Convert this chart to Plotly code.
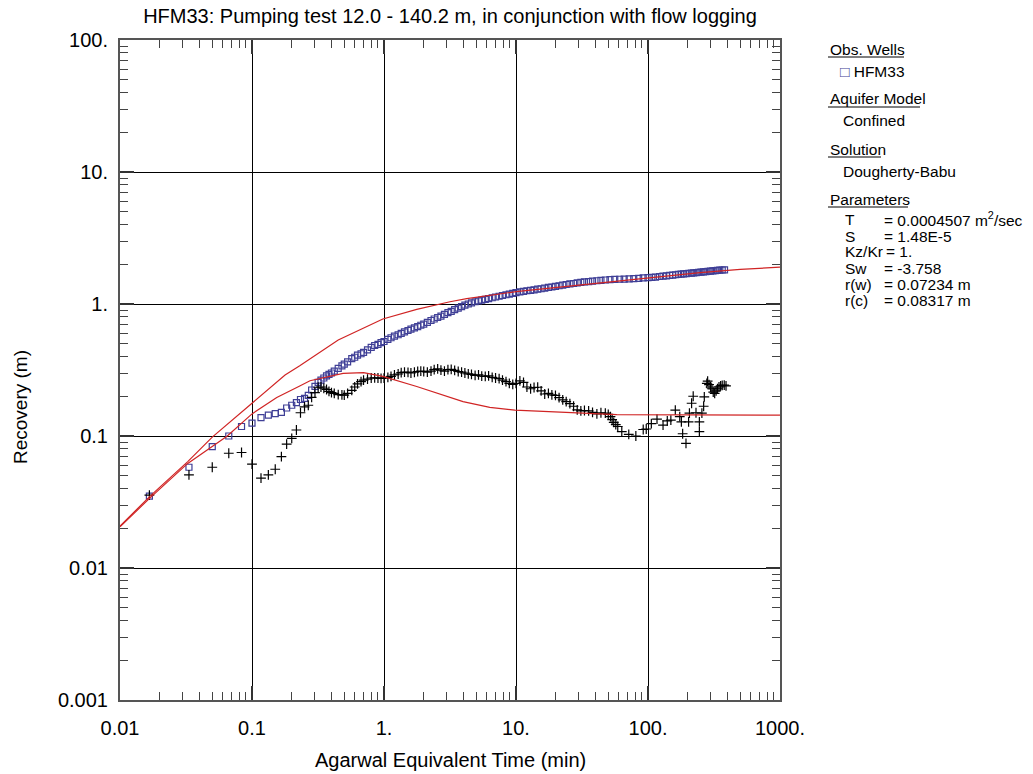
import plotly.graph_objects as go

# ---------------- data ----------------
obs_t = [0.0167, 0.0333, 0.05, 0.0667, 0.0833, 0.1, 0.117, 0.133, 0.15, 0.167, 0.183, 0.2,
         0.217, 0.233, 0.25, 0.267, 0.283, 0.3, 0.317, 0.333, 0.35, 0.367, 0.383, 0.4,
         0.42, 0.45, 0.48, 0.5, 0.53, 0.57, 0.6, 0.63, 0.67, 0.7, 0.75, 0.8, 0.85, 0.9, 0.95,
         1.0, 1.07, 1.13, 1.2, 1.28, 1.35, 1.43, 1.52, 1.6, 1.7, 1.8, 1.9, 2.0, 2.13, 2.27,
         2.4, 2.55, 2.7, 2.87, 3.05, 3.23, 3.43, 3.65, 3.87, 4.1, 4.35, 4.6, 4.9, 5.2, 5.5,
         5.85, 6.2, 6.6, 7.0, 7.45, 7.9, 8.4, 8.9, 9.45, 10.0, 10.7, 11.4, 12.1, 12.9, 13.7,
         14.6, 15.5, 16.5, 17.6, 18.7, 19.9, 21.2, 22.6, 24.0, 25.6, 27.3, 29.1, 31.0, 33.0,
         35.5, 38.0, 41.0, 44.0, 47.5, 51.5, 56, 61, 66, 72, 78, 85, 92, 100, 107, 114, 122,
         130, 138, 146, 154, 162, 170, 178, 186, 195, 204, 213, 222, 232, 242, 252, 263, 274,
         285, 297, 310, 323, 336, 350, 365, 380]
obs_recovery = [0.035, 0.058, 0.083, 0.100, 0.118, 0.125, 0.138, 0.144, 0.148, 0.151, 0.163, 0.171,
                0.179, 0.189, 0.193, 0.203, 0.223, 0.238, 0.255, 0.265, 0.275, 0.285, 0.293, 0.300,
                0.31, 0.325, 0.34, 0.35, 0.365, 0.385, 0.395, 0.41, 0.42, 0.43, 0.45, 0.47, 0.485,
                0.495, 0.51, 0.52, 0.54, 0.555, 0.57, 0.585, 0.6, 0.615, 0.63, 0.645, 0.66, 0.675,
                0.69, 0.705, 0.725, 0.75, 0.77, 0.79, 0.81, 0.835, 0.86, 0.88, 0.905, 0.93, 0.955,
                0.98, 1.0, 1.02, 1.04, 1.055, 1.07, 1.085, 1.1, 1.115, 1.13, 1.145, 1.16, 1.175,
                1.19, 1.205, 1.22, 1.235, 1.245, 1.26, 1.27, 1.28, 1.295, 1.305, 1.32, 1.335, 1.345,
                1.36, 1.375, 1.39, 1.405, 1.42, 1.43, 1.445, 1.46, 1.47, 1.48, 1.49, 1.50, 1.51,
                1.52, 1.53, 1.535, 1.54, 1.545, 1.55, 1.555, 1.565, 1.575, 1.585, 1.59, 1.60, 1.615,
                1.625, 1.635, 1.645, 1.655, 1.665, 1.675, 1.685, 1.69, 1.70, 1.71, 1.715, 1.72, 1.73,
                1.74, 1.745, 1.75, 1.76, 1.765, 1.775, 1.785, 1.79, 1.80, 1.805, 1.81, 1.815]

deriv_t = [0.0167, 0.0333, 0.05, 0.0667, 0.0833, 0.1, 0.117, 0.133, 0.15, 0.167, 0.183, 0.2,
           0.217, 0.233, 0.25, 0.267, 0.283, 0.3, 0.317, 0.333, 0.35, 0.367, 0.383, 0.4,
           0.42, 0.45, 0.48, 0.5, 0.53, 0.57, 0.6, 0.63, 0.67, 0.7, 0.75, 0.8, 0.85, 0.9, 0.95,
           1.0, 1.07, 1.13, 1.2, 1.28, 1.35, 1.43, 1.52, 1.6, 1.7, 1.8, 1.9, 2.0, 2.13, 2.27,
           2.4, 2.55, 2.7, 2.87, 3.05, 3.23, 3.43, 3.65, 3.87, 4.1, 4.35, 4.6, 4.9, 5.2, 5.5,
           5.85, 6.2, 6.6, 7.0, 7.45, 7.9, 8.4, 8.9, 9.45, 10.0, 10.7, 11.4, 12.1, 12.9, 13.7,
           14.6, 15.5, 16.5, 17.6, 18.7, 19.9, 21.2, 22.6, 24.0, 25.6, 27.3, 29.1, 31.0, 33.0,
           35.5, 38.0, 41.0, 44.0, 47.5, 50, 52, 53.5, 55, 57, 59, 63.3, 71.5, 80.9, 92, 97,
           106, 117, 130, 140, 149, 161, 174, 179, 183, 194, 203, 206, 214, 220, 231, 245, 245,
           256, 264, 267, 279, 283, 290, 298, 305, 312, 320, 328, 336, 345, 355, 365, 378, 390]
deriv_recovery = [0.0356, 0.0507, 0.058, 0.074, 0.075, 0.0613, 0.0479, 0.0507, 0.056, 0.0697, 0.0869,
                  0.096, 0.111, 0.150, 0.166, 0.171, 0.196, 0.213, 0.234, 0.235, 0.23, 0.225, 0.218,
                  0.213, 0.21, 0.206, 0.205, 0.204, 0.21, 0.222, 0.235, 0.248, 0.258, 0.265, 0.27,
                  0.275, 0.276, 0.275, 0.273, 0.274, 0.278, 0.283, 0.29, 0.295, 0.302, 0.305, 0.303,
                  0.30, 0.304, 0.308, 0.31, 0.308, 0.305, 0.31, 0.318, 0.322, 0.315, 0.31, 0.318,
                  0.32, 0.314, 0.308, 0.305, 0.30, 0.296, 0.293, 0.288, 0.29, 0.284, 0.283, 0.285,
                  0.278, 0.275, 0.272, 0.265, 0.258, 0.25, 0.246, 0.25, 0.262, 0.255, 0.235, 0.228,
                  0.233, 0.234, 0.22, 0.208, 0.21, 0.205, 0.203, 0.195, 0.188, 0.182, 0.176, 0.168,
                  0.158, 0.155, 0.156, 0.155, 0.151, 0.147, 0.15, 0.149, 0.146, 0.14, 0.133, 0.127,
                  0.122, 0.118, 0.108, 0.103, 0.1, 0.112, 0.113, 0.124, 0.134, 0.121, 0.13, 0.132,
                  0.157, 0.14, 0.128, 0.104, 0.088, 0.128, 0.149, 0.177, 0.2, 0.15, 0.128, 0.108,
                  0.149, 0.168, 0.198, 0.25, 0.26, 0.245, 0.235, 0.228, 0.215, 0.21, 0.22, 0.228,
                  0.235, 0.24, 0.242, 0.243, 0.24]

model_t = [0.01, 0.0169, 0.0326, 0.05, 0.1, 0.178, 0.23, 0.45, 0.98, 1.77, 3.16, 4.23, 10,
           43, 100, 248, 500, 1000]
model_recovery = [0.0208, 0.035, 0.064, 0.098, 0.177, 0.29, 0.34, 0.533, 0.77, 0.91, 1.04, 1.10,
                  1.24, 1.45, 1.58, 1.73, 1.83, 1.90]

model_deriv_t = [0.01, 0.0169, 0.0326, 0.065, 0.1, 0.154, 0.23, 0.275, 0.49, 0.7, 0.98, 1.77,
                 3.97, 6.33, 9.8, 28.8, 58, 1000]
model_deriv_recovery = [0.0205, 0.034, 0.062, 0.1, 0.147, 0.196, 0.239, 0.262, 0.298, 0.302,
                        0.283, 0.237, 0.182, 0.165, 0.157, 0.149, 0.145, 0.144]

x_tickvals = [0.01, 0.1, 1, 10, 100, 1000]
x_ticktext = ["0.01", "0.1", "1.", "10.", "100.", "1000."]
y_tickvals = [0.001, 0.01, 0.1, 1, 10, 100]
y_ticktext = ["0.001", "0.01", "0.1", "1.", "10.", "100."]

# ---------------- figure ----------------
W, H = 1033, 774
L, R, T, B = 120, 253, 40, 74
FONT = "Liberation Sans, Arial, sans-serif"
BLUE = "#3f3f96"
RED = "#d02424"

def px_x(px):
    return (px - L) / (W - L - R)

def px_y(py):
    return (H - B - py) / (H - T - B)

fig = go.Figure()
fig.add_trace(go.Scatter(x=obs_t, y=obs_recovery, mode="markers",
                         marker=dict(symbol="square-open", size=6, color=BLUE,
                                     line=dict(width=1.2, color=BLUE)),
                         showlegend=False))
fig.add_trace(go.Scatter(x=deriv_t, y=deriv_recovery, mode="markers",
                         marker=dict(symbol="cross-thin", size=7, color="black",
                                     line=dict(width=1.2, color="black")),
                         showlegend=False))
fig.add_trace(go.Scatter(x=model_t, y=model_recovery, mode="lines",
                         line=dict(color=RED, width=1.2), showlegend=False))
fig.add_trace(go.Scatter(x=model_deriv_t, y=model_deriv_recovery, mode="lines",
                         line=dict(color=RED, width=1.2), showlegend=False))

axis_common = dict(
    type="log", showgrid=True, gridcolor="black", gridwidth=1,
    showline=True, linecolor="#555555", linewidth=2, mirror="allticks",
    ticks="inside", ticklen=14, tickwidth=2, tickcolor="#333333",
    zeroline=False, tickfont=dict(family=FONT, size=20, color="black"),
    minor=dict(ticks="inside", ticklen=8, tickwidth=1, tickcolor="#444444",
               dtick="D1", showgrid=False),
)
fig.update_xaxes(range=[-2, 3], tickvals=x_tickvals, ticktext=x_ticktext,
                 ticklabelstandoff=9, **axis_common)
fig.update_yaxes(range=[-3, 2], tickvals=y_tickvals, ticktext=y_ticktext,
                 ticklabelstandoff=6, **axis_common)

annotations = [
    dict(text="Recovery (m)", x=px_x(20), y=px_y(407), textangle=-90,
         font=dict(size=19)),
    dict(text="Agarwal Equivalent Time (min)", x=px_x(450), y=px_y(760),
         font=dict(size=20)),
]

panel = [
    ("Obs. Wells", 828, 49),
    ("<span style='color:%s'>□</span> HFM33" % BLUE, 838, 72),
    ("Aquifer Model", 828, 99),
    ("Confined", 841, 121),
    ("Solution", 828, 149),
    ("Dougherty-Babu", 841, 171),
    ("Parameters", 828, 199),
    ("T", 843, 219), ("= 0.0004507 m<sup>2</sup>/sec", 882, 219),
    ("S", 843, 236), ("= 1.48E-5", 882, 236),
    ("Kz/Kr", 843, 252), ("= 1.", 884, 252),
    ("Sw", 843, 268), ("= -3.758", 882, 268),
    ("r(w)", 843, 284), ("= 0.07234 m", 882, 284),
    ("r(c)", 843, 300), ("= 0.08317 m", 882, 300),
]
for txt, x, y in panel:
    annotations.append(dict(text=txt, x=px_x(x), y=px_y(y), xanchor="left",
                            yanchor="middle", font=dict(size=15.5)))

for a in annotations:
    a.update(xref="paper", yref="paper", showarrow=False)
    a.setdefault("xanchor", "center")
    a.setdefault("yanchor", "middle")
    f = a.get("font", {})
    f.update(family=FONT, color="black")
    a["font"] = f

shapes = []
for x0, x1, y in [(828, 904, 57), (828, 920, 107), (828, 881, 157), (828, 908, 207)]:
    shapes.append(dict(type="line", xref="paper", yref="paper",
                       x0=px_x(x0), x1=px_x(x1), y0=px_y(y), y1=px_y(y),
                       line=dict(color="black", width=1)))

fig.update_layout(
    width=W, height=H,
    margin=dict(l=L, r=R, t=T, b=B, pad=0),
    paper_bgcolor="white", plot_bgcolor="white",
    font=dict(family=FONT, color="black"),
    title=dict(text="HFM33: Pumping test 12.0 - 140.2 m, in conjunction with flow logging",
               x=px_x(450), xref="paper", xanchor="center",
               y=1 - 16 / H, yref="container", yanchor="middle",
               font=dict(family=FONT, size=20, color="black")),
    annotations=annotations, shapes=shapes,
)

fig.write_html("out.html")
